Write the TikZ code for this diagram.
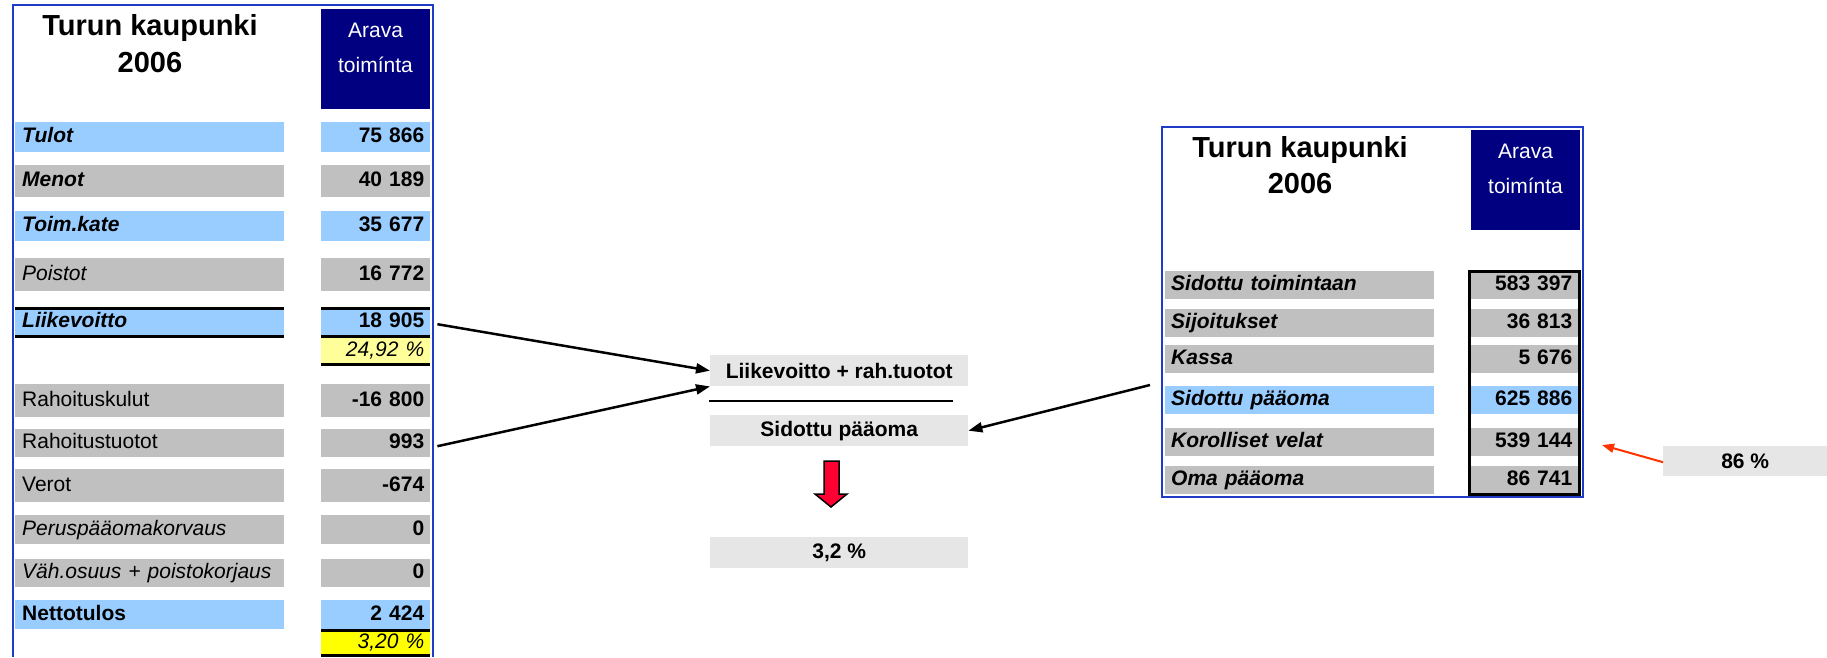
\documentclass[tikz,border=0pt]{standalone}
\usepackage{fontspec}
\setmainfont{Liberation Sans}
\usetikzlibrary{arrows.meta}
\definecolor{cblue}{HTML}{99CCFF}
\definecolor{cgray}{HTML}{C0C0C0}
\definecolor{cnavy}{HTML}{000080}
\definecolor{cpale}{HTML}{FFFF99}
\definecolor{cyel}{HTML}{FFFF00}
\definecolor{clight}{HTML}{E6E6E6}
\definecolor{cframe}{HTML}{1F3CC8}
\definecolor{cred}{HTML}{FF0033}
\definecolor{corange}{HTML}{FF3300}
\newcommand\fsz{\fontsize{21}{25}\selectfont}
\newcommand\fbig{\fontsize{29}{34}\selectfont\bfseries}
\tikzset{
  bar/.style={anchor=north west, inner ysep=0pt, text height=15pt, text depth=4pt, font=\fsz},
  labL/.style={bar, text width=255pt, align=left, inner xsep=7pt},
  valL/.style={bar, text width=97pt, align=right, inner xsep=6pt},
  labR/.style={bar, text width=257pt, align=left, inner xsep=6pt},
  valR/.style={bar, text width=95pt, align=right, inner xsep=6pt},
  midbox/.style={anchor=north west, fill=clight, minimum width=258pt, minimum height=31pt, inner sep=0pt, font=\fsz\bfseries},
  title/.style={anchor=base, font=\fbig},
  navytext/.style={anchor=base, font=\fsz, text=white},
  frame/.style={draw=cframe, line width=2.5pt},
  rule/.style={line width=3pt},
  conn/.style={line width=2.5pt, -{Triangle[length=14pt,width=10pt]}},
  redconn/.style={draw=corange, line width=2pt, -{Triangle[length=12pt,width=9pt]}},
}
\newcommand\LRow[7]{%
  \node[labL, fill=#4, minimum height=#3pt] (#1L) at (15,#2) {#5#6};
  \node[valL, fill=#4, minimum height=#3pt] (#1V) at (321,#2) {\bfseries #7};
}
\newcommand\RRow[5]{%
  \node[labR, fill=#4, minimum height=#3pt] (#1L) at (1165,#2) {\bfseries\itshape #5};
}
\begin{document}
\begin{tikzpicture}[x=1pt, y=-1pt]
\useasboundingbox (0,0) rectangle (1827,657);
\fill[white] (0,0) rectangle (1827,657);

% ---------- left table ----------
\node[title] (lt1) at (150,35) {Turun kaupunki};
\node[title] (lt2) at (150,72) {2006};
\node[anchor=north west, fill=cnavy, minimum width=109pt, minimum height=100pt, inner sep=0pt] (lnavy) at (321,9) {};
\node[navytext] (la1) at (375.5,37) {Arava};
\node[navytext] (la2) at (375.5,72) {toimínta};

\LRow{tulot}{122}{30}{cblue}{\bfseries\itshape}{Tulot}{75 866}
\LRow{menot}{165}{32}{cgray}{\bfseries\itshape}{Menot}{40 189}
\LRow{kate}{211}{30}{cblue}{\bfseries\itshape}{Toim.kate}{35 677}
\LRow{poist}{258}{33}{cgray}{\itshape}{Poistot}{16 772}
\LRow{liike}{309}{26}{cblue}{\bfseries\itshape}{Liikevoitto}{18 905}
\node[valL, fill=cpale, minimum height=25pt] (pct1) at (321,338) {\itshape 24,92 \%};
\LRow{rkul}{384}{33}{cgray}{}{Rahoituskulut}{-16 800}
\LRow{rtuo}{429}{28}{cgray}{}{Rahoitustuotot}{993}
\LRow{verot}{469}{33}{cgray}{}{Verot}{-674}
\LRow{perus}{515}{29}{cgray}{\itshape}{Peruspääomakorvaus}{0}
\LRow{vah}{559}{28}{cgray}{\itshape}{Väh.osuus + poistokorjaus}{0}
\LRow{netto}{600}{29}{cblue}{\bfseries}{Nettotulos}{2 424}
\node[valL, fill=cyel, minimum height=22pt] (pct2) at (321,632) {\itshape 3,20 \%};

\draw[rule] (15,308) -- (284,308) (321,308) -- (430,308);
\draw[rule] (15,336.5) -- (284,336.5) (321,336.5) -- (430,336.5);
\draw[rule] (321,364.5) -- (430,364.5);
\draw[rule] (321,630.5) -- (430,630.5);
\draw[rule] (321,655.5) -- (430,655.5);

\draw[frame] (13,657) -- (13,5) -- (433,5) -- (433,657);

% ---------- middle ----------
\node[midbox] (m1) at (710,355) {Liikevoitto + rah.tuotot};
\draw[line width=2.5pt] (709,401) -- (953,401);
\node[midbox] (m2) at (710,415) {Sidottu pääoma};
\node[midbox] (m3) at (710,537) {3,2 \%};
\draw[fill=cred, line width=1.5pt, line join=miter]
  (824,461) -- (839,461) -- (839,494) -- (847,494) -- (831,507) -- (815,494) -- (824,494) -- cycle;

% ---------- right table ----------
\node[title] (rt1) at (1300,157) {Turun kaupunki};
\node[title] (rt2) at (1300,193) {2006};
\node[anchor=north west, fill=cnavy, minimum width=109pt, minimum height=100pt, inner sep=0pt] (rnavy) at (1471,130) {};
\node[navytext] (ra1) at (1525.5,158) {Arava};
\node[navytext] (ra2) at (1525.5,193) {toimínta};

\RRow{sid}{271}{28}{cgray}{Sidottu toimintaan}
\RRow{sij}{309}{28}{cgray}{Sijoitukset}
\RRow{kas}{345}{28}{cgray}{Kassa}
\RRow{sp}{386}{28}{cblue}{Sidottu pääoma}
\RRow{kor}{428}{28}{cgray}{Korolliset velat}
\RRow{oma}{466}{28}{cgray}{Oma pääoma}
\node[valR, fill=cgray, minimum height=28pt] (sidV) at (1471,271) {\bfseries 583 397};
\node[valR, fill=cgray, minimum height=28pt] (sijV) at (1471,309) {\bfseries 36 813};
\node[valR, fill=cgray, minimum height=28pt] (kasV) at (1471,345) {\bfseries 5 676};
\node[valR, fill=cblue, minimum height=28pt] (spV) at (1471,386) {\bfseries 625 886};
\node[valR, fill=cgray, minimum height=28pt] (korV) at (1471,428) {\bfseries 539 144};
\node[valR, fill=cgray, minimum height=28pt] (omaV) at (1471,466) {\bfseries 86 741};
\draw[line width=3pt] (1469.5,271.5) rectangle (1579.5,494.5);
\draw[frame] (1162,127) rectangle (1583,497);

\node[anchor=north west, fill=clight, minimum width=164pt, minimum height=30pt, inner sep=0pt, font=\fsz\bfseries] (p86) at (1663,446) {86 \%};

% ---------- connectors ----------
\coordinate (s3) at (1150,385);
\coordinate (e86) at (1602,445);
\draw[conn] ([xshift=7pt, yshift=-2pt]liikeV.east) -- (m1.west);
\draw[conn] ([xshift=7pt, yshift=-3pt]rtuoV.east) -- (m1.south west);
\draw[conn] (s3) -- (m2.east);
\draw[redconn] ([yshift=-1pt]p86.west) -- (e86);
\end{tikzpicture}
\end{document}
